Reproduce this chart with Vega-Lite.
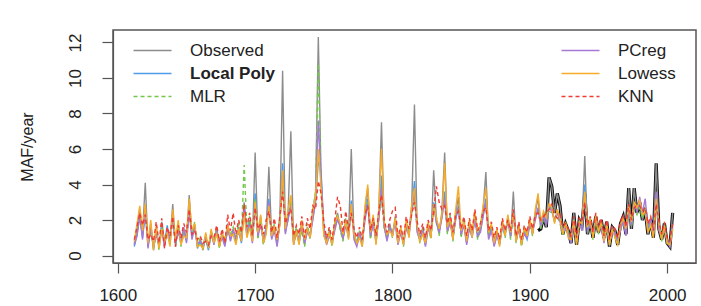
{
  "$schema": "https://vega.github.io/schema/vega-lite/v6.json",
  "width": 583,
  "height": 233,
  "autosize": "none",
  "padding": {"left": 113, "top": 30, "right": 5, "bottom": 43},
  "background": "white",
  "view": {"stroke": "#555555", "strokeWidth": 1.5},
  "config": {
    "font": "Liberation Sans",
    "view": {"stroke": "#555555", "strokeWidth": 1.5},
    "axis": {"grid": false, "domainColor": "#555555", "tickColor": "#555555", "domainWidth": 1.2, "tickWidth": 1.2, "labelColor": "#222222", "labelFontSize": 17, "titleFontSize": 16, "titleFontWeight": "normal", "titleColor": "#222222", "labelOverlap": false},
    "legend": {"padding": 0, "symbolType": "M-2,0H2", "symbolSize": 361, "symbolStrokeWidth": 1.5, "labelFontSize": 17, "labelColor": "#222222", "labelOffset": 27, "rowPadding": 4, "title": null}
  },
  "data": {"values": [
    {"t":1612,"o":0.6,"l":0.5,"m":0.7,"p":0.6,"w":0.8,"k":0.9},
    {"t":1614,"o":1.5,"l":1.2,"m":1.4,"p":1.1,"w":1.8,"k":1.6},
    {"t":1616,"o":2.6,"l":2.2,"m":2.0,"p":2.3,"w":2.8,"k":2.4},
    {"t":1618,"o":1.2,"l":1.0,"m":1.3,"p":0.9,"w":1.4,"k":1.7},
    {"t":1620,"o":4.1,"l":2.5,"m":2.2,"p":2.6,"w":2.9,"k":2.3},
    {"t":1622,"o":0.5,"l":0.6,"m":0.8,"p":0.4,"w":0.7,"k":0.9},
    {"t":1624,"o":1.8,"l":1.5,"m":1.3,"p":1.6,"w":2.0,"k":1.2},
    {"t":1626,"o":0.3,"l":0.4,"m":0.6,"p":0.5,"w":0.3,"k":0.8},
    {"t":1628,"o":1.6,"l":1.3,"m":1.5,"p":1.2,"w":1.7,"k":1.9},
    {"t":1630,"o":0.4,"l":0.5,"m":0.3,"p":0.6,"w":0.4,"k":0.7},
    {"t":1632,"o":1.9,"l":1.6,"m":1.8,"p":1.4,"w":1.5,"k":2.1},
    {"t":1634,"o":0.6,"l":0.7,"m":0.9,"p":0.5,"w":0.8,"k":0.4},
    {"t":1636,"o":1.4,"l":1.7,"m":1.2,"p":1.5,"w":1.3,"k":1.6},
    {"t":1638,"o":0.8,"l":0.6,"m":0.7,"p":0.9,"w":0.5,"k":1.1},
    {"t":1640,"o":2.9,"l":2.3,"m":2.0,"p":2.1,"w":2.6,"k":2.2},
    {"t":1642,"o":0.5,"l":0.8,"m":0.6,"p":0.7,"w":0.9,"k":0.5},
    {"t":1644,"o":1.8,"l":1.4,"m":1.6,"p":1.3,"w":2.0,"k":1.7},
    {"t":1646,"o":0.7,"l":0.9,"m":0.5,"p":0.8,"w":0.6,"k":1.0},
    {"t":1648,"o":1.5,"l":1.2,"m":1.4,"p":1.6,"w":1.1,"k":1.8},
    {"t":1650,"o":0.9,"l":1.1,"m":0.8,"p":0.7,"w":1.0,"k":1.3},
    {"t":1652,"o":3.4,"l":2.7,"m":2.4,"p":2.5,"w":3.2,"k":2.6},
    {"t":1654,"o":1.0,"l":1.3,"m":1.1,"p":0.9,"w":1.4,"k":1.2},
    {"t":1656,"o":1.7,"l":1.5,"m":1.9,"p":1.6,"w":1.8,"k":1.4},
    {"t":1658,"o":0.4,"l":0.6,"m":0.5,"p":0.7,"w":0.5,"k":0.9},
    {"t":1660,"o":0.9,"l":0.7,"m":1.0,"p":0.8,"w":0.6,"k":1.1},
    {"t":1662,"o":0.3,"l":0.5,"m":0.4,"p":0.6,"w":0.4,"k":0.7},
    {"t":1664,"o":1.1,"l":0.9,"m":1.2,"p":1.0,"w":1.3,"k":0.8},
    {"t":1666,"o":0.4,"l":0.3,"m":0.6,"p":0.5,"w":0.4,"k":0.6},
    {"t":1668,"o":1.4,"l":1.2,"m":1.0,"p":1.3,"w":1.5,"k":1.1},
    {"t":1670,"o":0.7,"l":0.8,"m":0.9,"p":0.6,"w":0.7,"k":1.0},
    {"t":1672,"o":1.6,"l":1.3,"m":1.5,"p":1.4,"w":1.2,"k":1.7},
    {"t":1674,"o":0.5,"l":0.6,"m":0.4,"p":0.7,"w":0.5,"k":0.8},
    {"t":1676,"o":1.3,"l":1.1,"m":1.4,"p":1.0,"w":1.2,"k":1.5},
    {"t":1678,"o":0.6,"l":0.8,"m":0.7,"p":0.5,"w":0.9,"k":0.7},
    {"t":1680,"o":1.8,"l":1.5,"m":1.3,"p":1.6,"w":1.7,"k":2.3},
    {"t":1682,"o":0.9,"l":1.0,"m":1.2,"p":0.8,"w":1.1,"k":1.4},
    {"t":1684,"o":1.5,"l":1.3,"m":1.6,"p":1.4,"w":1.2,"k":2.4},
    {"t":1686,"o":0.7,"l":0.9,"m":0.8,"p":1.0,"w":0.6,"k":1.2},
    {"t":1688,"o":1.6,"l":1.4,"m":1.9,"p":1.3,"w":1.5,"k":2.0},
    {"t":1690,"o":0.8,"l":0.7,"m":1.1,"p":0.9,"w":0.8,"k":1.3},
    {"t":1692,"o":3.0,"l":2.6,"m":5.1,"p":2.8,"w":2.4,"k":2.9},
    {"t":1694,"o":1.2,"l":1.1,"m":1.5,"p":1.3,"w":1.0,"k":1.6},
    {"t":1696,"o":2.0,"l":1.8,"m":2.2,"p":1.7,"w":1.6,"k":2.4},
    {"t":1698,"o":0.8,"l":0.9,"m":1.0,"p":0.7,"w":0.8,"k":1.1},
    {"t":1700,"o":5.8,"l":3.5,"m":3.2,"p":2.9,"w":3.0,"k":2.7},
    {"t":1702,"o":1.0,"l":1.2,"m":0.9,"p":1.1,"w":1.3,"k":1.5},
    {"t":1704,"o":2.2,"l":1.9,"m":2.1,"p":1.7,"w":2.3,"k":1.8},
    {"t":1706,"o":0.7,"l":0.8,"m":0.6,"p":0.9,"w":0.7,"k":1.2},
    {"t":1708,"o":1.4,"l":1.6,"m":1.3,"p":1.5,"w":1.2,"k":2.0},
    {"t":1710,"o":5.0,"l":3.2,"m":2.7,"p":3.0,"w":2.8,"k":2.5},
    {"t":1712,"o":1.1,"l":1.0,"m":1.2,"p":0.9,"w":1.1,"k":1.3},
    {"t":1714,"o":1.7,"l":1.5,"m":1.8,"p":1.4,"w":1.6,"k":2.1},
    {"t":1716,"o":0.6,"l":0.8,"m":0.7,"p":0.5,"w":0.9,"k":1.0},
    {"t":1718,"o":2.0,"l":1.8,"m":2.3,"p":1.9,"w":1.7,"k":2.2},
    {"t":1720,"o":10.4,"l":5.2,"m":4.0,"p":4.5,"w":4.8,"k":3.6},
    {"t":1722,"o":1.3,"l":1.4,"m":1.6,"p":1.2,"w":1.5,"k":1.8},
    {"t":1724,"o":2.4,"l":2.0,"m":2.2,"p":2.1,"w":2.6,"k":2.3},
    {"t":1726,"o":7.0,"l":3.0,"m":3.3,"p":2.8,"w":3.4,"k":2.6},
    {"t":1728,"o":0.6,"l":0.9,"m":0.8,"p":0.7,"w":0.6,"k":1.1},
    {"t":1730,"o":1.5,"l":1.3,"m":1.6,"p":1.2,"w":1.4,"k":1.7},
    {"t":1732,"o":0.8,"l":0.7,"m":0.9,"p":1.0,"w":0.6,"k":1.2},
    {"t":1734,"o":1.9,"l":1.6,"m":1.4,"p":1.7,"w":2.0,"k":2.2},
    {"t":1736,"o":0.6,"l":0.8,"m":0.5,"p":0.7,"w":0.9,"k":1.0},
    {"t":1738,"o":1.6,"l":1.4,"m":1.8,"p":1.3,"w":1.5,"k":2.1},
    {"t":1740,"o":1.0,"l":1.2,"m":0.9,"p":1.1,"w":1.0,"k":1.5},
    {"t":1742,"o":2.4,"l":2.1,"m":2.6,"p":2.0,"w":2.5,"k":2.8},
    {"t":1744,"o":3.5,"l":3.0,"m":3.6,"p":3.2,"w":3.3,"k":2.6},
    {"t":1746,"o":12.3,"l":5.3,"m":10.8,"p":7.6,"w":6.0,"k":4.2},
    {"t":1748,"o":4.5,"l":4.8,"m":4.0,"p":4.2,"w":3.8,"k":3.5},
    {"t":1750,"o":1.2,"l":1.5,"m":1.3,"p":1.6,"w":1.1,"k":1.9},
    {"t":1752,"o":0.7,"l":0.9,"m":0.8,"p":0.6,"w":0.7,"k":1.0},
    {"t":1754,"o":1.4,"l":1.2,"m":1.5,"p":1.1,"w":1.3,"k":1.6},
    {"t":1756,"o":0.6,"l":0.7,"m":0.5,"p":0.8,"w":0.6,"k":0.9},
    {"t":1758,"o":1.8,"l":1.6,"m":1.7,"p":1.4,"w":1.9,"k":2.0},
    {"t":1760,"o":2.4,"l":2.0,"m":2.3,"p":2.1,"w":2.2,"k":3.3},
    {"t":1762,"o":1.5,"l":1.7,"m":1.4,"p":1.6,"w":1.8,"k":2.8},
    {"t":1764,"o":0.9,"l":1.1,"m":0.8,"p":1.0,"w":1.2,"k":1.3},
    {"t":1766,"o":2.0,"l":1.8,"m":2.1,"p":1.7,"w":1.9,"k":2.5},
    {"t":1768,"o":1.2,"l":1.0,"m":1.3,"p":1.1,"w":0.9,"k":1.4},
    {"t":1770,"o":6.0,"l":3.1,"m":2.6,"p":2.8,"w":2.9,"k":2.4},
    {"t":1772,"o":1.0,"l":1.3,"m":1.1,"p":0.9,"w":1.2,"k":1.5},
    {"t":1774,"o":0.7,"l":0.6,"m":0.8,"p":0.5,"w":0.7,"k":1.0},
    {"t":1776,"o":1.3,"l":1.1,"m":1.4,"p":1.2,"w":1.0,"k":1.6},
    {"t":1778,"o":0.5,"l":0.7,"m":0.6,"p":0.8,"w":0.5,"k":0.9},
    {"t":1780,"o":2.6,"l":2.2,"m":2.4,"p":2.0,"w":2.8,"k":2.3},
    {"t":1782,"o":3.8,"l":3.2,"m":3.0,"p":2.9,"w":4.0,"k":2.8},
    {"t":1784,"o":1.0,"l":1.2,"m":0.9,"p":1.1,"w":1.3,"k":1.4},
    {"t":1786,"o":2.2,"l":1.9,"m":2.0,"p":1.8,"w":2.3,"k":2.1},
    {"t":1788,"o":0.8,"l":0.7,"m":1.0,"p":0.9,"w":0.6,"k":1.1},
    {"t":1790,"o":2.4,"l":2.1,"m":2.3,"p":2.0,"w":2.6,"k":2.5},
    {"t":1792,"o":7.5,"l":4.5,"m":3.1,"p":3.8,"w":6.0,"k":3.4},
    {"t":1794,"o":1.6,"l":1.8,"m":1.5,"p":1.7,"w":1.9,"k":2.0},
    {"t":1796,"o":0.9,"l":1.1,"m":1.0,"p":0.8,"w":1.2,"k":1.3},
    {"t":1798,"o":1.8,"l":1.5,"m":1.7,"p":1.6,"w":1.4,"k":2.0},
    {"t":1800,"o":1.1,"l":1.3,"m":1.0,"p":1.2,"w":1.1,"k":2.5},
    {"t":1802,"o":2.2,"l":1.9,"m":2.0,"p":1.8,"w":2.1,"k":2.7},
    {"t":1804,"o":0.7,"l":0.9,"m":0.8,"p":0.6,"w":0.7,"k":1.0},
    {"t":1806,"o":1.5,"l":1.2,"m":1.4,"p":1.3,"w":1.6,"k":1.7},
    {"t":1808,"o":0.6,"l":0.8,"m":0.5,"p":0.7,"w":0.6,"k":0.9},
    {"t":1810,"o":1.9,"l":1.7,"m":1.8,"p":1.5,"w":2.0,"k":2.2},
    {"t":1812,"o":1.3,"l":1.1,"m":1.4,"p":1.2,"w":1.0,"k":1.5},
    {"t":1814,"o":2.8,"l":2.5,"m":2.4,"p":2.6,"w":2.9,"k":2.3},
    {"t":1816,"o":8.5,"l":4.2,"m":3.2,"p":3.6,"w":3.8,"k":3.0},
    {"t":1818,"o":1.4,"l":1.6,"m":1.5,"p":1.3,"w":1.7,"k":1.9},
    {"t":1820,"o":0.8,"l":1.0,"m":0.7,"p":0.9,"w":0.8,"k":1.2},
    {"t":1822,"o":1.6,"l":1.3,"m":1.5,"p":1.4,"w":1.2,"k":1.8},
    {"t":1824,"o":0.7,"l":0.6,"m":0.8,"p":0.5,"w":0.7,"k":1.0},
    {"t":1826,"o":1.8,"l":1.5,"m":1.7,"p":1.6,"w":1.9,"k":2.0},
    {"t":1828,"o":1.0,"l":1.2,"m":0.9,"p":1.1,"w":1.0,"k":1.4},
    {"t":1830,"o":4.8,"l":3.0,"m":2.6,"p":2.8,"w":2.9,"k":2.5},
    {"t":1832,"o":2.0,"l":1.8,"m":2.2,"p":1.9,"w":2.1,"k":3.9},
    {"t":1834,"o":1.2,"l":1.4,"m":1.1,"p":1.3,"w":1.5,"k":3.0},
    {"t":1836,"o":2.5,"l":2.2,"m":2.4,"p":2.1,"w":2.3,"k":2.6},
    {"t":1838,"o":5.8,"l":3.6,"m":3.0,"p":3.2,"w":5.2,"k":2.8},
    {"t":1840,"o":1.3,"l":1.5,"m":1.2,"p":1.4,"w":1.6,"k":1.8},
    {"t":1842,"o":2.2,"l":2.0,"m":2.3,"p":1.8,"w":2.1,"k":2.4},
    {"t":1844,"o":0.9,"l":1.1,"m":0.8,"p":1.0,"w":0.9,"k":1.3},
    {"t":1846,"o":2.4,"l":2.0,"m":2.2,"p":2.1,"w":2.6,"k":2.3},
    {"t":1848,"o":3.3,"l":2.8,"m":2.6,"p":2.7,"w":3.9,"k":2.5},
    {"t":1850,"o":1.1,"l":1.3,"m":1.0,"p":1.2,"w":1.4,"k":1.5},
    {"t":1852,"o":2.0,"l":1.8,"m":2.1,"p":1.7,"w":1.9,"k":2.2},
    {"t":1854,"o":0.8,"l":0.7,"m":0.9,"p":0.6,"w":0.8,"k":1.1},
    {"t":1856,"o":1.9,"l":1.6,"m":1.8,"p":1.5,"w":2.0,"k":2.1},
    {"t":1858,"o":1.2,"l":1.0,"m":1.3,"p":1.1,"w":1.0,"k":1.4},
    {"t":1860,"o":2.4,"l":2.1,"m":2.3,"p":2.0,"w":2.5,"k":2.6},
    {"t":1862,"o":1.0,"l":1.2,"m":0.9,"p":1.1,"w":1.3,"k":1.4},
    {"t":1864,"o":1.6,"l":1.4,"m":1.5,"p":1.3,"w":1.7,"k":1.8},
    {"t":1866,"o":2.6,"l":2.3,"m":2.4,"p":2.2,"w":2.8,"k":2.5},
    {"t":1868,"o":4.7,"l":3.2,"m":2.8,"p":3.0,"w":3.8,"k":2.7},
    {"t":1870,"o":1.0,"l":1.2,"m":1.1,"p":0.9,"w":1.3,"k":1.4},
    {"t":1872,"o":1.7,"l":1.5,"m":1.6,"p":1.4,"w":1.8,"k":1.9},
    {"t":1874,"o":0.6,"l":0.8,"m":0.7,"p":0.5,"w":0.7,"k":1.0},
    {"t":1876,"o":1.4,"l":1.2,"m":1.3,"p":1.1,"w":1.5,"k":1.6},
    {"t":1878,"o":0.7,"l":0.6,"m":0.8,"p":0.7,"w":0.5,"k":0.9},
    {"t":1880,"o":1.9,"l":1.6,"m":1.8,"p":1.7,"w":2.0,"k":2.1},
    {"t":1882,"o":1.1,"l":1.3,"m":1.0,"p":1.2,"w":1.1,"k":1.4},
    {"t":1884,"o":2.2,"l":1.9,"m":2.0,"p":2.1,"w":2.3,"k":2.0},
    {"t":1886,"o":1.0,"l":1.2,"m":0.9,"p":1.1,"w":1.3,"k":1.4},
    {"t":1888,"o":3.6,"l":2.5,"m":2.2,"p":2.3,"w":2.4,"k":2.6},
    {"t":1890,"o":0.8,"l":1.0,"m":0.7,"p":0.9,"w":0.8,"k":1.1},
    {"t":1892,"o":1.8,"l":1.5,"m":1.6,"p":1.4,"w":1.7,"k":1.9},
    {"t":1894,"o":0.6,"l":0.7,"m":0.5,"p":0.8,"w":0.6,"k":0.9},
    {"t":1896,"o":1.5,"l":1.3,"m":1.4,"p":1.2,"w":1.6,"k":1.7},
    {"t":1898,"o":1.1,"l":0.9,"m":1.2,"p":1.0,"w":1.1,"k":1.3},
    {"t":1900,"o":2.0,"l":1.7,"m":1.9,"p":1.8,"w":2.1,"k":2.2},
    {"t":1902,"o":1.2,"l":1.4,"m":1.1,"p":1.3,"w":1.2,"k":1.5},
    {"t":1904,"o":2.4,"l":2.1,"m":2.2,"p":2.0,"w":2.6,"k":2.3},
    {"t":1906,"o":3.3,"l":2.6,"m":2.5,"p":2.7,"w":3.5,"k":2.4,"b":1.4},
    {"t":1908,"o":1.5,"l":1.8,"m":1.6,"p":1.7,"w":1.9,"k":2.0,"b":1.5},
    {"t":1910,"o":2.2,"l":2.4,"m":2.0,"p":2.3,"w":2.5,"k":2.2,"b":2.2},
    {"t":1912,"o":1.6,"l":2.0,"m":1.8,"p":1.7,"w":2.1,"k":2.4,"b":1.6},
    {"t":1914,"o":4.4,"l":2.8,"m":2.5,"p":2.7,"w":2.9,"k":2.6,"b":4.4},
    {"t":1916,"o":3.9,"l":2.6,"m":2.4,"p":2.5,"w":2.7,"k":2.9,"b":3.9},
    {"t":1918,"o":2.4,"l":1.9,"m":2.1,"p":2.0,"w":1.8,"k":2.3,"b":2.4},
    {"t":1920,"o":3.5,"l":2.5,"m":2.2,"p":2.4,"w":2.6,"k":2.1,"b":3.5},
    {"t":1922,"o":2.8,"l":2.0,"m":1.8,"p":1.9,"w":2.1,"k":2.3,"b":2.8},
    {"t":1924,"o":1.2,"l":1.4,"m":1.1,"p":1.3,"w":1.2,"k":1.6,"b":1.2},
    {"t":1926,"o":1.8,"l":1.6,"m":1.7,"p":1.5,"w":1.9,"k":1.8,"b":1.8},
    {"t":1928,"o":1.4,"l":1.1,"m":1.3,"p":1.2,"w":1.0,"k":1.5,"b":1.4},
    {"t":1930,"o":0.7,"l":0.9,"m":0.8,"p":0.7,"w":0.9,"k":1.1,"b":0.7},
    {"t":1932,"o":2.4,"l":1.9,"m":1.7,"p":1.8,"w":2.0,"k":2.2,"b":2.4},
    {"t":1934,"o":0.6,"l":0.8,"m":0.7,"p":0.9,"w":0.6,"k":1.0,"b":0.6},
    {"t":1936,"o":2.0,"l":1.7,"m":1.6,"p":1.8,"w":1.9,"k":2.1,"b":2.0},
    {"t":1938,"o":1.7,"l":1.5,"m":1.6,"p":1.4,"w":1.8,"k":1.9,"b":1.7},
    {"t":1940,"o":5.6,"l":4.0,"m":3.2,"p":3.3,"w":3.6,"k":3.0,"b":3.5},
    {"t":1942,"o":1.2,"l":1.5,"m":1.3,"p":1.4,"w":1.6,"k":1.7,"b":1.2},
    {"t":1944,"o":2.0,"l":1.8,"m":1.9,"p":1.7,"w":2.1,"k":2.2,"b":2.0},
    {"t":1946,"o":1.0,"l":1.1,"m":0.9,"p":1.2,"w":1.0,"k":1.3,"b":1.0},
    {"t":1948,"o":2.2,"l":1.9,"m":2.0,"p":2.1,"w":2.3,"k":2.4,"b":2.2},
    {"t":1950,"o":1.3,"l":1.4,"m":1.2,"p":1.5,"w":1.3,"k":1.6,"b":1.3},
    {"t":1952,"o":2.0,"l":1.7,"m":1.8,"p":1.6,"w":1.9,"k":2.1,"b":2.0},
    {"t":1954,"o":1.0,"l":0.8,"m":0.9,"p":0.7,"w":0.8,"k":1.1,"b":1.0},
    {"t":1956,"o":1.9,"l":1.6,"m":1.5,"p":1.7,"w":1.8,"k":2.0,"b":1.9},
    {"t":1958,"o":0.5,"l":0.7,"m":0.6,"p":0.8,"w":0.6,"k":0.9,"b":0.5},
    {"t":1960,"o":1.6,"l":1.3,"m":1.4,"p":1.2,"w":1.5,"k":1.7,"b":1.6},
    {"t":1962,"o":1.4,"l":1.2,"m":1.1,"p":1.3,"w":1.0,"k":1.5,"b":1.4},
    {"t":1964,"o":0.6,"l":0.8,"m":0.7,"p":0.9,"w":0.6,"k":1.0,"b":0.6},
    {"t":1966,"o":1.8,"l":1.5,"m":1.6,"p":1.4,"w":1.7,"k":1.9,"b":1.8},
    {"t":1968,"o":2.2,"l":1.9,"m":1.8,"p":2.0,"w":2.1,"k":2.3,"b":2.2},
    {"t":1970,"o":1.2,"l":1.4,"m":1.3,"p":1.1,"w":1.5,"k":1.6,"b":1.2},
    {"t":1972,"o":3.8,"l":2.6,"m":2.5,"p":2.7,"w":2.8,"k":2.9,"b":3.8},
    {"t":1974,"o":1.5,"l":1.8,"m":1.6,"p":1.7,"w":1.9,"k":2.0,"b":1.5},
    {"t":1976,"o":3.8,"l":2.8,"m":2.6,"p":2.9,"w":3.0,"k":2.7,"b":3.8},
    {"t":1978,"o":2.4,"l":2.6,"m":2.3,"p":2.5,"w":2.7,"k":2.8,"b":2.4},
    {"t":1980,"o":3.0,"l":2.9,"m":2.7,"p":3.3,"w":3.1,"k":2.8,"b":3.0},
    {"t":1982,"o":2.0,"l":2.2,"m":2.1,"p":2.4,"w":2.3,"k":2.5,"b":2.0},
    {"t":1984,"o":2.6,"l":2.4,"m":2.8,"p":3.2,"w":2.5,"k":2.7,"b":2.6},
    {"t":1986,"o":1.2,"l":1.5,"m":1.4,"p":1.6,"w":1.3,"k":1.8,"b":1.2},
    {"t":1988,"o":2.0,"l":1.8,"m":1.9,"p":2.1,"w":1.7,"k":2.2,"b":2.0},
    {"t":1990,"o":1.0,"l":1.2,"m":1.1,"p":1.3,"w":1.0,"k":1.4,"b":1.0},
    {"t":1992,"o":5.2,"l":3.4,"m":3.0,"p":3.6,"w":3.2,"k":2.9,"b":5.2},
    {"t":1994,"o":1.5,"l":1.7,"m":1.6,"p":1.4,"w":1.8,"k":1.9,"b":1.5},
    {"t":1996,"o":0.9,"l":1.0,"m":0.8,"p":1.1,"w":0.9,"k":1.2,"b":0.9},
    {"t":1998,"o":1.8,"l":1.5,"m":1.6,"p":1.4,"w":1.7,"k":1.9,"b":1.8},
    {"t":2000,"o":0.7,"l":0.8,"m":0.6,"p":0.9,"w":0.7,"k":1.0,"b":0.7},
    {"t":2002,"o":0.5,"l":0.6,"m":0.7,"p":0.5,"w":0.6,"k":0.8,"b":0.5},
    {"t":2004,"o":2.4,"l":1.5,"m":1.4,"p":1.6,"w":1.5,"k":1.8,"b":2.4}
  ]},
  "transform": [{"fold": ["o", "l", "m", "p", "w", "k"], "as": ["key", "v"]}],
  "encoding": {
    "x": {"field": "t", "type": "quantitative", "scale": {"domain": [1596.5, 2021], "nice": false, "zero": false},
      "axis": {"title": null, "values": [1600, 1700, 1800, 1900, 2000], "format": "d", "tickSize": 10, "labelPadding": 14, "labelFlush": false}}
  },
  "layer": [
    {
      "transform": [{"filter": "datum.key === 'o' && isValid(datum.b)"}],
      "mark": {"type": "line", "strokeWidth": 3.2, "color": "#111111", "clip": true},
      "encoding": {
        "y": {"field": "b", "type": "quantitative", "scale": {"domain": [-0.42, 12.7], "nice": false, "zero": false},
          "axis": {"title": "MAF/year", "values": [0, 2, 4, 6, 8, 10, 12], "tickSize": 11, "labelAngle": -90, "labelPadding": 18, "labelFlush": false, "titlePadding": 31}}
      }
    },
    {
      "transform": [{"filter": {"field": "key", "oneOf": ["o", "l", "m"]}}],
      "mark": {"type": "line", "strokeWidth": 1.4, "clip": true},
      "encoding": {
        "y": {"field": "v", "type": "quantitative",
          "axis": {"title": "MAF/year", "values": [0, 2, 4, 6, 8, 10, 12], "tickSize": 11, "labelAngle": -90, "labelPadding": 18, "labelFlush": false, "titlePadding": 31}},
        "color": {"field": "key", "type": "nominal",
          "scale": {"domain": ["o", "l", "m"], "range": ["#8c8c8c", "#4f9de6", "#72c84a"]},
          "legend": {"orient": "none", "legendX": 29, "legendY": 10, "labelExpr": "{'o':'Observed','l':'Local Poly','m':'MLR'}[datum.value]",
            "encode": {"labels": {"update": {"fontWeight": {"signal": "datum.value === 'l' ? 'bold' : 'normal'"}}}}}},
        "strokeDash": {"field": "key", "type": "nominal",
          "scale": {"domain": ["o", "l", "m"], "range": [[1, 0], [1, 0], [4, 3]]},
          "legend": {"orient": "none", "legendX": 29, "legendY": 10, "labelExpr": "{'o':'Observed','l':'Local Poly','m':'MLR'}[datum.value]",
            "encode": {"labels": {"update": {"fontWeight": {"signal": "datum.value === 'l' ? 'bold' : 'normal'"}}}}}},
        "order": {"field": "t", "type": "quantitative"}
      }
    },
    {
      "transform": [{"filter": {"field": "key", "oneOf": ["p", "w", "k"]}}],
      "mark": {"type": "line", "strokeWidth": 1.4, "clip": true},
      "encoding": {
        "y": {"field": "v", "type": "quantitative",
          "axis": {"title": "MAF/year", "values": [0, 2, 4, 6, 8, 10, 12], "tickSize": 11, "labelAngle": -90, "labelPadding": 18, "labelFlush": false, "titlePadding": 31}},
        "color": {"field": "key", "type": "nominal",
          "scale": {"domain": ["p", "w", "k"], "range": ["#a679d6", "#f7ab2a", "#f03a32"]},
          "legend": {"orient": "none", "legendX": 457, "legendY": 10, "labelExpr": "{'p':'PCreg','w':'Lowess','k':'KNN'}[datum.value]"}},
        "strokeDash": {"field": "key", "type": "nominal",
          "scale": {"domain": ["p", "w", "k"], "range": [[1, 0], [1, 0], [4, 3]]},
          "legend": {"orient": "none", "legendX": 457, "legendY": 10, "labelExpr": "{'p':'PCreg','w':'Lowess','k':'KNN'}[datum.value]"}},
        "order": {"field": "t", "type": "quantitative"}
      }
    }
  ],
  "resolve": {"scale": {"color": "independent", "strokeDash": "independent"}, "legend": {"color": "independent", "strokeDash": "independent"}}
}
